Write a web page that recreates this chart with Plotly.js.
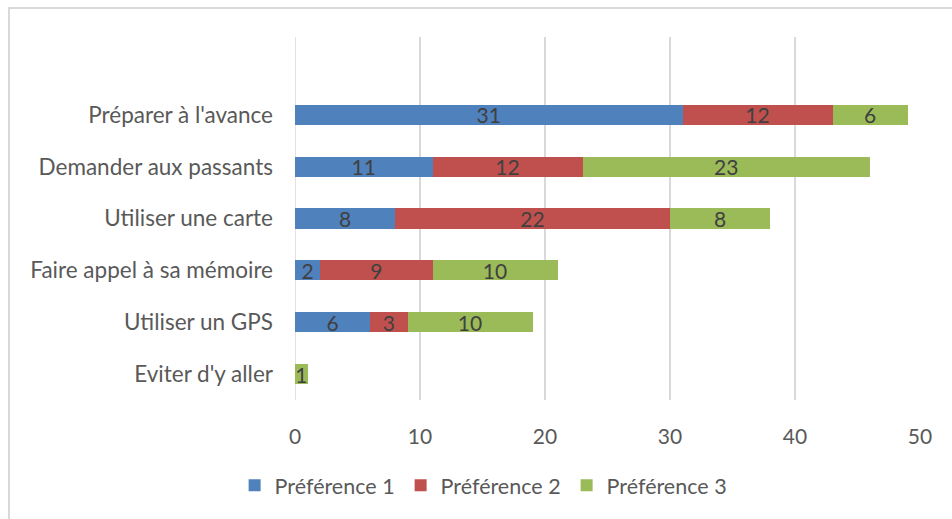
<!DOCTYPE html>
<html>
<head>
<meta charset="utf-8">
<script src="https://cdn.plot.ly/plotly-3.0.1.min.js"></script>
<style>
  html, body { margin: 0; padding: 0; background: #fff; overflow: hidden; }
  #frame { position: absolute; left: 8px; top: 7px; width: 980px; height: 560px; border: 2px solid #d9d9d9; box-sizing: border-box; }
  #chart { position: absolute; left: 0; top: 0; width: 952px; height: 519px; }
</style>
</head>
<body>
<div id="frame"></div>
<div id="chart"></div>
<script>
// Data (categories listed top to bottom)
const categories = ["Préparer à l'avance", "Demander aux passants", "Utiliser une carte", "Faire appel à sa mémoire", "Utiliser un GPS", "Eviter d'y aller"];
const seriesNames = ["Préférence 1", "Préférence 2", "Préférence 3"];
const pref1 = [31, 11, 8, 2, 6, null];
const pref2 = [12, 12, 22, 9, 3, null];
const pref3 = [6, 23, 8, 10, 10, 1];
const xTicks = [0, 10, 20, 30, 40, 50];

const colors = ["#4f81bd", "#c0504d", "#9bbb59"];
const values = [pref1, pref2, pref3];

const FONT = "Lato, Open Sans, sans-serif";

const traces = values.map((v, i) => ({
  type: 'bar',
  orientation: 'h',
  name: seriesNames[i],
  y: categories,
  x: v,
  width: 0.39,
  marker: { color: colors[i], line: { width: 0 } },
  text: v.map(d => d == null ? '' : String(d)),
  texttemplate: '%{text}',
  textposition: 'inside',
  insidetextanchor: 'middle',
  textangle: 0,
  constraintext: 'none',
  textfont: { family: FONT, size: 21, color: '#404040' },
  cliponaxis: false,
  hoverinfo: 'x+name'
}));

const layout = {
  width: 952,
  height: 519,
  paper_bgcolor: 'rgba(0,0,0,0)',
  plot_bgcolor: 'rgba(0,0,0,0)',
  barmode: 'stack',
  margin: { l: 295, r: 32, t: 37, b: 119, pad: 0 },
  font: { family: FONT, size: 22, color: '#595959' },
  xaxis: {
    range: [0, 50],
    tickvals: xTicks,
    ticktext: xTicks.map(String),
    showgrid: true,
    gridcolor: '#d9d9d9',
    gridwidth: 1.5,
    zeroline: false,
    showline: false,
    ticks: '',
    ticklabelstandoff: 22,
    tickfont: { family: FONT, size: 21, color: '#595959' },
    fixedrange: true
  },
  yaxis: {
    type: 'category',
    categoryorder: 'array',
    categoryarray: categories,
    range: [5.5, -1.5],
    showgrid: false,
    zeroline: false,
    showline: false,
    ticks: '',
    ticklabelstandoff: 21,
    tickfont: { family: FONT, size: 22.5, color: '#595959' },
    fixedrange: true
  },
  shapes: [{
    type: 'line', layer: 'below',
    xref: 'x', x0: 0, x1: 0,
    yref: 'paper', y0: 0, y1: 1,
    line: { color: '#d9d9d9', width: 1.5 }
  }],
  legend: {
    orientation: 'h',
    traceorder: 'normal',
    xref: 'container',
    yref: 'container',
    x: 0.508,
    xanchor: 'center',
    y: 0.065,
    yanchor: 'middle',
    entrywidth: 121,
    entrywidthmode: 'pixels',
    font: { family: FONT, size: 21.5, color: '#595959' },
    itemclick: false,
    itemdoubleclick: false
  },
  showlegend: true
};

Plotly.newPlot('chart', traces, layout, { displayModeBar: false, staticPlot: true });
</script>
</body>
</html>
